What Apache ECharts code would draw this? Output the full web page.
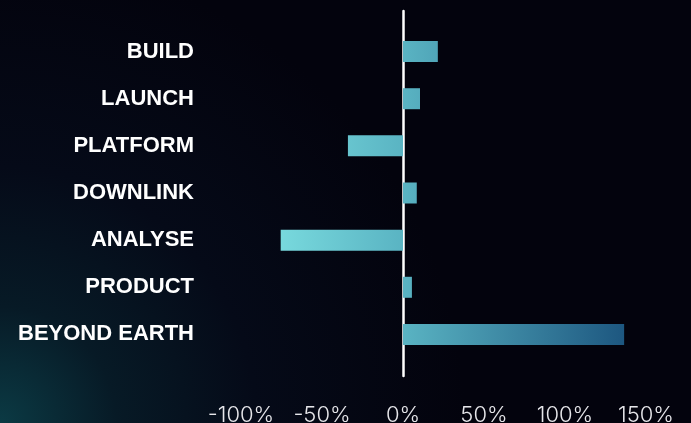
<!DOCTYPE html>
<html><head><meta charset="utf-8">
<script src="https://cdn.jsdelivr.net/npm/echarts@6/dist/echarts.min.js"></script>
<style>html,body{margin:0;padding:0;background:#04040f;}#c{width:691px;height:423px;}</style>
</head><body><div id="c"></div>
<script>
const categories = ['BUILD','LAUNCH','PLATFORM','DOWNLINK','ANALYSE','PRODUCT','BEYOND EARTH'];
const values = [21.5, 10.5, -34, 8.5, -75.5, 5.5, 136.5];
const xTicks = {min: -100, max: 150, interval: 50};

const chart = echarts.init(document.getElementById('c'));
const barGrad = new echarts.graphic.LinearGradient(0,0,1,0,[
  {offset:0, color:'#78d9dd'},
  {offset:0.357, color:'#5ab4c3'},
  {offset:1, color:'#1d5780'}
]);
barGrad.global = true; barGrad.x = 279; barGrad.y = 0; barGrad.x2 = 624; barGrad.y2 = 0;

chart.setOption({
  backgroundColor: {
    type:'radial', x:0, y:1, r:1.1,
    colorStops:[
      {offset:0, color:'#0b3a44'},
      {offset:0.25, color:'#071a26'},
      {offset:0.55, color:'#050a18'},
      {offset:1, color:'#03030d'}
    ]
  },
  animation:false,
  grid:[
    {left:241, right:45, top:28, bottom:65, containLabel:false, outerBoundsMode:'none'},
    {left:241, right:45, top:11, bottom:47, containLabel:false, outerBoundsMode:'none'}
  ],
  xAxis:[
    {gridIndex:0, type:'value', min:xTicks.min, max:xTicks.max, interval:xTicks.interval,
     axisLine:{show:false}, axisTick:{show:false}, splitLine:{show:false},
     axisLabel:{color:'#e6e6ea', fontFamily:'Inter', fontWeight:300, fontSize:22, margin:46,
       formatter: v => v + '%'}},
    {gridIndex:1, type:'value', min:xTicks.min, max:xTicks.max, interval:xTicks.interval, show:false}
  ],
  yAxis:[
    {gridIndex:0, type:'category', data:categories, inverse:true,
     axisLine:{show:false}, axisTick:{show:false}, splitLine:{show:false},
     axisLabel:{color:'#ffffff', fontFamily:'Liberation Sans', fontWeight:700, fontSize:22, margin:47}},
    {gridIndex:1, type:'category', data:[''], position:'left',
     axisLine:{show:true, onZero:true, lineStyle:{color:'#ffffff', width:2.5}},
     axisTick:{show:false}, axisLabel:{show:false}, splitLine:{show:false}}
  ],
  series:[
    {type:'bar', xAxisIndex:0, yAxisIndex:0, data:values, barWidth:21,
     itemStyle:{color:barGrad}}
  ]
});
</script></body></html>
